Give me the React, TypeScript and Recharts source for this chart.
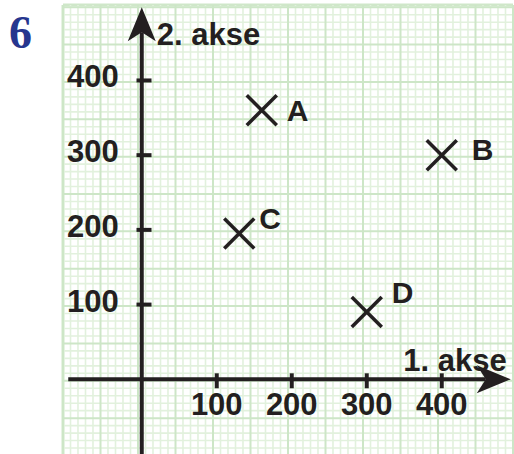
import React from 'react';
import { ScatterChart, Scatter, XAxis, YAxis, ReferenceLine, ReferenceDot } from 'recharts';

// Points in the coordinate system
const pointNames = ['A', 'B', 'C', 'D'];
const pointX = [160, 400, 130, 300];
const pointY = [360, 300, 195, 90];

// Axis ticks and titles
const xTicks = [100, 200, 300, 400];
const yTicks = [100, 200, 300, 400];
const xTitle = '1. akse';
const yTitle = '2. akse';
const taskNumber = '6';

const X_DOMAIN: [number, number] = [-105, 495];
const Y_DOMAIN: [number, number] = [-100, 501];
const X_AXIS_END = 492;
const Y_AXIS_END = 498;

const INK = '#231f20';
const FONT = '"Liberation Sans", Arial, Helvetica, sans-serif';

const points = pointNames.map((name, i) => ({ name, x: pointX[i], y: pointY[i] }));

// graph paper: thin lines every 10, stronger every 50
const range = (from: number, to: number, step: number) => {
  const out: number[] = [];
  for (let v = from; v <= to; v += step) out.push(v);
  return out;
};
const gridX = range(-105, 495, 10);
const gridY = range(-92, 498, 10);
const isMajorX = (v: number) => (v + 105) % 50 === 0;
const isMajorY = (v: number) => (v + 52) % 50 === 0;

// where each letter sits next to its cross, in px
const labelOffset: Record<string, [number, number]> = {
  A: [25, 11],
  B: [30, 5],
  C: [20, -5],
  D: [25, -9],
};

const ArrowAxis = (props: any) => {
  const { x1, y1, x2, y2 } = props;
  const dx = x2 - x1;
  const dy = y2 - y1;
  const len = Math.hypot(dx, dy) || 1;
  const ux = dx / len;
  const uy = dy / len;
  const px = -uy;
  const py = ux;
  const L = 34;
  const W = 14;
  const N = 25;
  const nx = x2 - ux * N;
  const ny = y2 - uy * N;
  const head = [
    [x2, y2],
    [x2 - ux * L + px * W, y2 - uy * L + py * W],
    [nx, ny],
    [x2 - ux * L - px * W, y2 - uy * L - py * W],
  ]
    .map((p) => p.join(','))
    .join(' ');
  return (
    <g>
      <line x1={x1} y1={y1} x2={nx} y2={ny} stroke={INK} strokeWidth={4} />
      <polygon points={head} fill={INK} />
    </g>
  );
};

const Cross = (props: any) => {
  const { cx, cy, payload } = props;
  const s = 15;
  const [ox, oy] = labelOffset[payload.name] || [24, 0];
  return (
    <g>
      <line x1={cx - s} y1={cy - s} x2={cx + s} y2={cy + s} stroke={INK} strokeWidth={3.5} />
      <line x1={cx - s} y1={cy + s} x2={cx + s} y2={cy - s} stroke={INK} strokeWidth={3.5} />
      <text x={cx + ox} y={cy + oy} fontFamily={FONT} fontWeight="bold" fontSize={30} fill={INK}>
        {payload.name}
      </text>
    </g>
  );
};

const textStyle = { fontFamily: FONT, fontWeight: 'bold' as const, fontSize: 31, fill: INK };

export default function App() {
  return (
    <div style={{ position: 'absolute', left: 0, top: 0, width: 514, height: 454, background: '#fff' }}>
      <div
        style={{
          position: 'absolute',
          left: 9,
          top: 8,
          fontFamily: '"Liberation Serif", "Times New Roman", serif',
          fontWeight: 'bold',
          fontSize: 46,
          lineHeight: '50px',
          color: '#26368e',
        }}
      >
        {taskNumber}
      </div>
      <ScatterChart width={514} height={454} margin={{ top: 5, right: 1, bottom: 0, left: 63 }}>
        <XAxis type="number" dataKey="x" domain={X_DOMAIN} allowDataOverflow hide />
        <YAxis type="number" dataKey="y" domain={Y_DOMAIN} allowDataOverflow hide />

        {/* top and left edge of the paper */}
        <ReferenceLine y={Y_DOMAIN[1]} stroke="#cfe7c9" strokeWidth={3} ifOverflow="visible" />
        <ReferenceLine x={X_DOMAIN[0]} stroke="#cfe7c9" strokeWidth={3} ifOverflow="visible" />

        {gridX.filter((v) => !isMajorX(v)).map((v) => (
          <ReferenceLine key={`gx${v}`} x={v} stroke="#e2f1dd" strokeWidth={1.6} ifOverflow="visible" />
        ))}
        {gridY.filter((v) => !isMajorY(v)).map((v) => (
          <ReferenceLine key={`gy${v}`} y={v} stroke="#e2f1dd" strokeWidth={1.6} ifOverflow="visible" />
        ))}
        {gridX.filter(isMajorX).map((v) => (
          <ReferenceLine key={`mx${v}`} x={v} stroke="#cde6c7" strokeWidth={2} ifOverflow="visible" />
        ))}
        {gridY.filter(isMajorY).map((v) => (
          <ReferenceLine key={`my${v}`} y={v} stroke="#cde6c7" strokeWidth={2} ifOverflow="visible" />
        ))}

        {xTicks.map((t) => (
          <ReferenceLine
            key={`xt${t}`}
            segment={[{ x: t, y: -12 }, { x: t, y: 8 }]}
            stroke={INK}
            strokeWidth={4}
            ifOverflow="visible"
          />
        ))}
        {yTicks.map((t) => (
          <ReferenceLine
            key={`yt${t}`}
            segment={[{ x: -7, y: t }, { x: 13, y: t }]}
            stroke={INK}
            strokeWidth={4}
            ifOverflow="visible"
          />
        ))}

        <ReferenceLine
          segment={[{ x: X_DOMAIN[0] + 7, y: 0 }, { x: X_AXIS_END, y: 0 }]}
          shape={ArrowAxis}
          ifOverflow="visible"
        />
        <ReferenceLine
          segment={[{ x: 0, y: Y_DOMAIN[0] }, { x: 0, y: Y_AXIS_END }]}
          shape={ArrowAxis}
          ifOverflow="visible"
        />

        {xTicks.map((t) => (
          <ReferenceDot
            key={`xl${t}`}
            x={t}
            y={0}
            ifOverflow="visible"
            shape={(p: any) => (
              <text x={p.cx} y={p.cy + 36} textAnchor="middle" {...textStyle}>
                {t}
              </text>
            )}
          />
        ))}
        {yTicks.map((t) => (
          <ReferenceDot
            key={`yl${t}`}
            x={0}
            y={t}
            ifOverflow="visible"
            shape={(p: any) => (
              <text x={p.cx - 23} y={p.cy + 7} textAnchor="end" {...textStyle}>
                {t}
              </text>
            )}
          />
        ))}

        <ReferenceDot
          x={0}
          y={Y_AXIS_END}
          ifOverflow="visible"
          shape={(p: any) => (
            <text x={p.cx + 15} y={p.cy + 38} {...textStyle}>
              {yTitle}
            </text>
          )}
        />
        <ReferenceDot
          x={X_AXIS_END}
          y={0}
          ifOverflow="visible"
          shape={(p: any) => (
            <text x={p.cx - 4} y={p.cy - 8} textAnchor="end" {...textStyle}>
              {xTitle}
            </text>
          )}
        />

        <Scatter data={points} shape={Cross} isAnimationActive={false} />
      </ScatterChart>
    </div>
  );
}
